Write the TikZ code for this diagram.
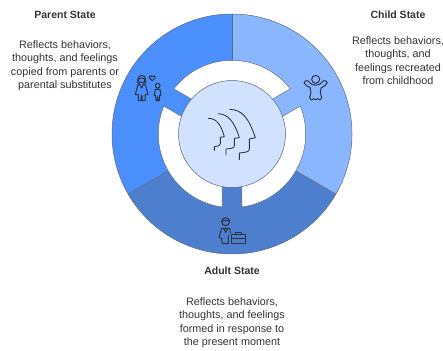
\documentclass[tikz,border=0pt]{standalone}
\usepackage{fontspec}
\usetikzlibrary{calc}
\setmainfont{Liberation Sans}
\definecolor{parentc}{HTML}{4A8FFC}
\definecolor{childc}{HTML}{8AB6FF}
\definecolor{adultc}{HTML}{4E7FCF}
\definecolor{corec}{HTML}{D0E2FF}
\definecolor{edgec}{HTML}{5F6B7A}
\definecolor{inkc}{HTML}{2B3440}
\definecolor{textc}{HTML}{333333}
\tikzset{
  sector/.style={draw=edgec,line width=0.5pt},
  icon/.style={draw=inkc,line width=1pt,line join=round,line cap=round},
  title/.style={font=\fontsize{10.5}{13.5}\selectfont\bfseries,text=textc,align=center,inner sep=0pt},
  body/.style={font=\fontsize{10.8}{13.6}\selectfont,text=textc,align=center,inner sep=0pt}
}
\begin{document}
\begin{tikzpicture}[x=1pt,y=-1pt]
\useasboundingbox (0,0) rectangle (443,350);
\coordinate (c) at (232,134);
% sectors
\fill[childc] (c) -- ($(c)+(90:120pt)$) arc[start angle=90,end angle=-30,radius=120pt] -- cycle;
\fill[parentc] (c) -- ($(c)+(90:120pt)$) arc[start angle=90,end angle=210,radius=120pt] -- cycle;
\fill[adultc] (c) -- ($(c)+(210:120pt)$) arc[start angle=210,end angle=330,radius=120pt] -- cycle;
\draw[sector] (c) circle[radius=120pt];
\draw[sector] ($(c)+(90:120pt)$) -- ($(c)+(90:60pt)$);
\draw[sector] ($(c)+(210:120pt)$) -- ($(c)+(210:60pt)$);
\draw[sector] ($(c)+(330:120pt)$) -- ($(c)+(330:60pt)$);
% white ring segments between the spokes
\foreach \sa/\ea/\ia/\ib in {37.8/142.2/40.8/139.2,157.8/262.2/160.8/259.2,277.8/382.2/280.8/379.2}{
  \draw[sector,fill=white]
    ($(c)+(\sa:73.7pt)$) arc[start angle=\sa,end angle=\ea,radius=73.7pt]
    -- ($(c)+(\ib:53pt)$) arc[start angle=\ib,end angle=\ia,radius=53pt] -- cycle;
}
% core
\node[circle,draw=edgec,line width=0.5pt,fill=corec,minimum size=107pt,inner sep=0pt] (core) at (c) {};
% heads
\begin{scope}[shift={(195,95)},x=0.3333pt,y=-0.3333pt,icon,line width=0.85pt]
\draw (105,43) .. controls (140,45) and (160,65) .. (181,128) -- (163,132) -- (163,162) .. controls (163,170) and (155,172) .. (133,174) -- (133,194);
\draw (70,56) .. controls (100,58) and (118,80) .. (133,128) -- (118,130) -- (118,152) .. controls (118,160) and (110,160) .. (93,162) -- (93,180);
\draw (40,70) .. controls (65,70) and (78,90) .. (88,125) -- (76,127) -- (76,146) .. controls (76,153) and (70,153) .. (58,155) -- (58,166);
\end{scope}
% parent icon
\begin{scope}[shift={(125,60)},x=0.3333pt,y=-0.3333pt,icon]
\draw (50,57) circle[radius=3.7pt];
\draw (39,60) .. controls (45,52) and (55,52) .. (61,60);
\draw (39,58) -- (37,69) -- (44,70);
\draw (61,58) -- (63,69) -- (56,70);
\draw (44,72) -- (50,84) -- (56,72) -- (62,76) -- (69,104) -- (60,104) -- (60,122) -- (52,122) -- (51,106) -- (49,106) -- (48,122) -- (40,122) -- (40,104) -- (31,104) -- (38,76) -- cycle;
\draw (82,62) -- (73,53) .. controls (71,47) and (79,45) .. (82,50) .. controls (85,45) and (93,47) .. (91,53) -- cycle;
\draw (98,77) circle[radius=2.4pt];
\draw (91,88) -- (105,88) -- (108,106) -- (104,106) -- (103,122) -- (99,122) -- (98,110) -- (97,122) -- (93,122) -- (92,106) -- (88,106) -- cycle;
\end{scope}
% child icon
\begin{scope}[shift={(295,60)},x=0.3333pt,y=-0.3333pt,icon]
\draw (62,58) circle[radius=4pt];
\draw (45,82) .. controls (38,80) and (30,76) .. (27,68) .. controls (31,60) and (40,60) .. (44,68) .. controls (50,78) and (74,78) .. (80,68) .. controls (84,60) and (94,60) .. (97,68) .. controls (94,76) and (86,80) .. (78,84) -- (76,98) -- (80,112) .. controls (78,122) and (70,122) .. (68,116) .. controls (64,120) and (60,120) .. (56,116) .. controls (54,122) and (46,122) .. (44,112) -- (48,98) -- cycle;
\end{scope}
% adult icon
\begin{scope}[shift={(205,205)},x=0.3333pt,y=-0.3333pt,icon]
\draw (62,50) circle[radius=4pt];
\draw (51,50) .. controls (56,44) and (60,44) .. (62,48) .. controls (64,44) and (68,44) .. (73,50);
\draw (50,70) -- (74,70) -- (76,84);
\draw (56,70) -- (62,82) -- (68,70);
\draw (50,70) -- (42,98) -- (50,100) -- (52,116) -- (70,116) -- (70,92);
\draw (80,88) rectangle (120,115);
\draw (92,88) -- (92,81) -- (108,81) -- (108,88);
\draw (80,100) -- (120,100);
\end{scope}
% labels
\node[title] (pt) at (65,14.5) {Parent State};
\node[body,anchor=north] (pb) at (65,40) {Reflects behaviors,\\thoughts, and feelings\\copied from parents or\\parental substitutes};
\node[title] (ct) at (398,14.5) {Child State};
\node[body,anchor=north] (cb) at (398,36) {Reflects behaviors,\\thoughts, and\\feelings recreated\\from childhood};
\node[title] (at) at (232,271) {Adult State};
\node[body,anchor=north] (ab) at (232,297) {Reflects behaviors,\\thoughts, and feelings\\formed in response to\\the present moment};
\end{tikzpicture}
\end{document}
